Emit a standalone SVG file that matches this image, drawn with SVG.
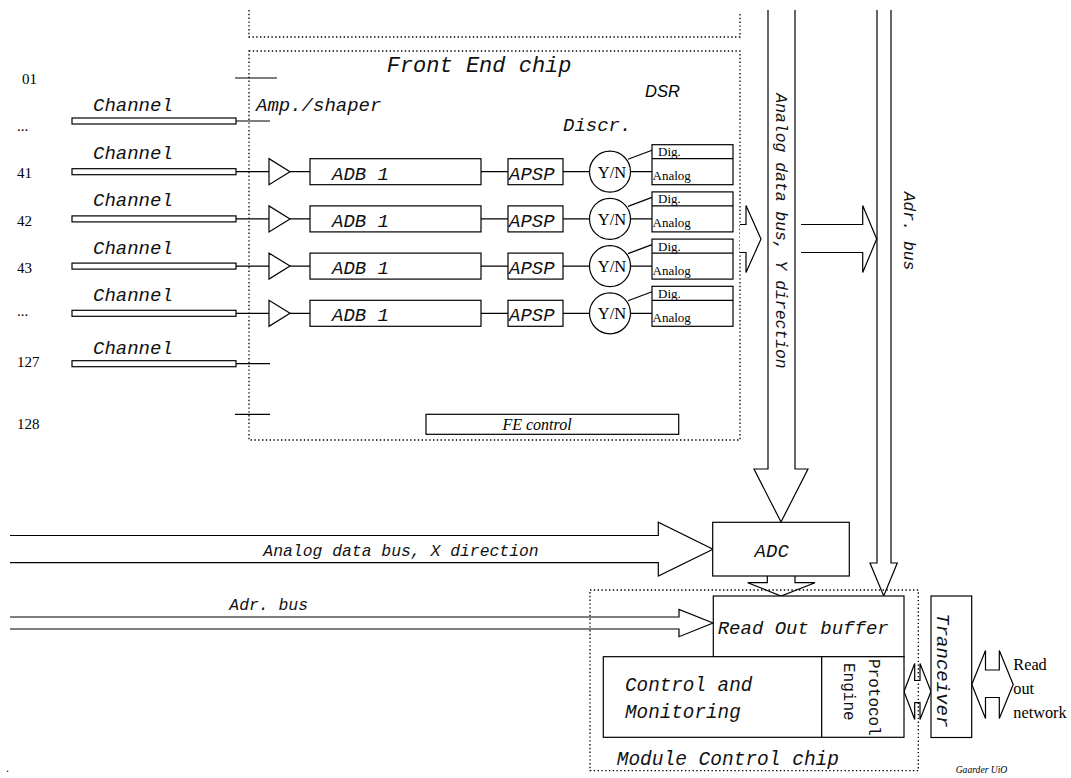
<svg xmlns="http://www.w3.org/2000/svg" width="1071" height="778" viewBox="0 0 1071 778">
<defs>
<style>
.ln{stroke:#000;stroke-width:1.2;fill:none}
.bx{stroke:#000;stroke-width:1.2;fill:#fff}
.dot{stroke:#000;stroke-width:1.3;fill:none;stroke-dasharray:1.4 2.4}
.m{font-family:"Liberation Mono","Courier New",monospace;font-style:italic;fill:#111}
.mu{font-family:"Liberation Mono","Courier New",monospace;fill:#111}
.s{font-family:"Liberation Serif","Times New Roman",serif;fill:#000}
.si{font-family:"Liberation Serif","Times New Roman",serif;font-style:italic;fill:#000}
.h{font-family:"Liberation Sans",Arial,sans-serif;font-style:italic;fill:#000}
</style>
</defs>
<rect width="1071" height="778" fill="#fff"/>

<g id="upper-chip"><path class="dot" d="M249,10 V37 H740 V12"/></g>

<g id="front-end-chip">
<rect class="dot" x="249" y="51" width="491" height="389"/>
<text class="m" x="386.7" y="72" font-size="22">Front End chip</text>
<text class="m" x="256" y="111" font-size="19">Amp./shaper</text>
<text class="h" x="645" y="97" font-size="16.5">DSR</text>
<text class="m" x="563" y="131" font-size="19">Discr.</text>
<line class="ln" x1="235" y1="78" x2="277" y2="78"/>
<line class="ln" x1="235" y1="414.3" x2="270" y2="414.3"/>
</g>

<g id="labels" class="s" font-size="15">
<text x="22" y="84">01</text>
<text x="17" y="131">...</text>
<text x="17" y="178">41</text>
<text x="17" y="226">42</text>
<text x="17" y="273">43</text>
<text x="17" y="316">...</text>
<text x="17" y="367">127</text>
<text x="17" y="429">128</text>
</g>

<g id="channel-01">
<text class="m" x="93" y="111" font-size="19">Channel</text>
<rect class="bx" x="72" y="118" width="164" height="6"/>
<line class="ln" x1="236" y1="121" x2="270" y2="121"/>
</g>

<g id="channel-127">
<text class="m" x="93" y="354" font-size="19">Channel</text>
<rect class="bx" x="72" y="360.7" width="164" height="6"/>
<line class="ln" x1="236" y1="363.7" x2="270" y2="363.7"/>
</g>

<g id="row-41" transform="translate(0,171.7)">
<text class="m" x="93" y="-12.5" font-size="19">Channel</text>
<rect class="bx" x="72" y="-3" width="164" height="6"/>
<path class="ln" d="M236,0 H269 M290,0 H310 M481,0 H508 M563,0 H589.5 M630.5,0 H652 M628,-12.5 L652,-21.5"/>
<polygon class="bx" points="269,-13 269,13 290,0"/>
<rect class="bx" x="310" y="-13" width="171" height="26"/>
<text class="m" x="332" y="8" font-size="19">ADB 1</text>
<rect class="bx" x="508" y="-13" width="55" height="26"/>
<text class="m" x="509" y="8" font-size="19">APSP</text>
<circle class="bx" cx="610" cy="0" r="20.5"/>
<text class="s" x="612" y="6" font-size="16.5" text-anchor="middle">Y/N</text>
<rect class="bx" x="652" y="-27" width="81" height="40"/>
<text class="s" x="658" y="-15.5" font-size="13">Dig.</text>
<line class="ln" x1="652" y1="-13" x2="733" y2="-13"/>
<text class="s" x="652.5" y="8.5" font-size="13">Analog</text>
</g>

<g id="row-42" transform="translate(0,218.9)">
<text class="m" x="93" y="-12.5" font-size="19">Channel</text>
<rect class="bx" x="72" y="-3" width="164" height="6"/>
<path class="ln" d="M236,0 H269 M290,0 H310 M481,0 H508 M563,0 H589.5 M630.5,0 H652 M628,-12.5 L652,-21.5"/>
<polygon class="bx" points="269,-13 269,13 290,0"/>
<rect class="bx" x="310" y="-13" width="171" height="26"/>
<text class="m" x="332" y="8" font-size="19">ADB 1</text>
<rect class="bx" x="508" y="-13" width="55" height="26"/>
<text class="m" x="509" y="8" font-size="19">APSP</text>
<circle class="bx" cx="610" cy="0" r="20.5"/>
<text class="s" x="612" y="6" font-size="16.5" text-anchor="middle">Y/N</text>
<rect class="bx" x="652" y="-27" width="81" height="40"/>
<text class="s" x="658" y="-15.5" font-size="13">Dig.</text>
<line class="ln" x1="652" y1="-13" x2="733" y2="-13"/>
<text class="s" x="652.5" y="8.5" font-size="13">Analog</text>
</g>

<g id="row-43" transform="translate(0,266.1)">
<text class="m" x="93" y="-12.5" font-size="19">Channel</text>
<rect class="bx" x="72" y="-3" width="164" height="6"/>
<path class="ln" d="M236,0 H269 M290,0 H310 M481,0 H508 M563,0 H589.5 M630.5,0 H652 M628,-12.5 L652,-21.5"/>
<polygon class="bx" points="269,-13 269,13 290,0"/>
<rect class="bx" x="310" y="-13" width="171" height="26"/>
<text class="m" x="332" y="8" font-size="19">ADB 1</text>
<rect class="bx" x="508" y="-13" width="55" height="26"/>
<text class="m" x="509" y="8" font-size="19">APSP</text>
<circle class="bx" cx="610" cy="0" r="20.5"/>
<text class="s" x="612" y="6" font-size="16.5" text-anchor="middle">Y/N</text>
<rect class="bx" x="652" y="-27" width="81" height="40"/>
<text class="s" x="658" y="-15.5" font-size="13">Dig.</text>
<line class="ln" x1="652" y1="-13" x2="733" y2="-13"/>
<text class="s" x="652.5" y="8.5" font-size="13">Analog</text>
</g>

<g id="row-n" transform="translate(0,313.3)">
<text class="m" x="93" y="-12.5" font-size="19">Channel</text>
<rect class="bx" x="72" y="-3" width="164" height="6"/>
<path class="ln" d="M236,0 H269 M290,0 H310 M481,0 H508 M563,0 H589.5 M630.5,0 H652 M628,-12.5 L652,-21.5"/>
<polygon class="bx" points="269,-13 269,13 290,0"/>
<rect class="bx" x="310" y="-13" width="171" height="26"/>
<text class="m" x="332" y="8" font-size="19">ADB 1</text>
<rect class="bx" x="508" y="-13" width="55" height="26"/>
<text class="m" x="509" y="8" font-size="19">APSP</text>
<circle class="bx" cx="610" cy="0" r="20.5"/>
<text class="s" x="612" y="6" font-size="16.5" text-anchor="middle">Y/N</text>
<rect class="bx" x="652" y="-27" width="81" height="40"/>
<text class="s" x="658" y="-15.5" font-size="13">Dig.</text>
<line class="ln" x1="652" y1="-13" x2="733" y2="-13"/>
<text class="s" x="652.5" y="8.5" font-size="13">Analog</text>
</g>

<g id="fe-control">
<rect class="bx" x="426" y="414.3" width="252.7" height="20"/>
<text class="si" x="537" y="430" font-size="16" text-anchor="middle">FE control</text>
</g>

<g id="connectors">
<path class="bx" d="M768,10 V469 H754 L781,522 L808,469 H795 V10"/>
<path class="bx" d="M877,10 V563 H870 L883.7,596 L897.3,563 H891 V10"/>
<path class="bx" d="M740,224.5 H746 V205.5 L761,239 L746,272.5 V252.5 H740"/>
<path class="bx" d="M801,224.5 H862.7 V205.5 L876.7,239 L862.7,272.5 V252.5 H801"/>
<path class="bx" d="M10,535.5 H658.3 V522.3 L713,549.3 L658.3,576 V562.7 H10"/>
<path class="bx" d="M10,617 H679 V609.5 L713,623 L679,636.7 V629 H10"/>
<path class="bx" d="M767.3,576 V582.7 H747.7 L781,596 L815,582.7 H795 V576"/>
<polygon class="bx" points="904,691.5 914.7,663.5 914.7,680.5 920,680.5 920,663.5 931,691.5 920,719.5 920,702.7 914.7,702.7 914.7,719.5"/>
<polygon class="bx" points="971.8,684.5 985.5,650.5 985.5,670 999.3,670 999.3,650.5 1013.2,684.5 999.3,718.5 999.3,697.5 985.5,697.5 985.5,718.5"/>
</g>

<g id="bus-labels">
<text class="m" transform="translate(775.5,93.3) rotate(90)" font-size="16.4">Analog data bus, Y direction</text>
<text class="m" transform="translate(903.5,191.7) rotate(90)" font-size="16.4">Adr. bus</text>
<text class="m" x="263.3" y="555.7" font-size="16.4">Analog data bus, X direction</text>
<text class="m" x="229.3" y="610" font-size="16.4">Adr. bus</text>
</g>

<g id="adc">
<rect class="bx" x="712.7" y="522.3" width="136.6" height="53.7"/>
<text class="m" x="771.7" y="557" font-size="19" text-anchor="middle">ADC</text>
</g>

<g id="module-control-chip">
<rect class="dot" x="590" y="590" width="328.3" height="180.7"/>
<text class="m" x="616.7" y="765" font-size="19.5">Module Control chip</text>
</g>

<g id="read-out-buffer">
<rect class="bx" x="713.3" y="596" width="190.7" height="60.7"/>
<text class="m" x="717.7" y="634" font-size="19">Read Out buffer</text>
</g>

<g id="control-monitoring">
<rect class="bx" x="603.3" y="656.7" width="218.4" height="80.6"/>
<text class="m" x="625" y="691" font-size="19.3">Control and</text>
<text class="m" x="625" y="717.7" font-size="19.3">Monitoring</text>
</g>

<g id="protocol-engine">
<rect class="bx" x="821.7" y="656.7" width="82.3" height="80.6"/>
<text class="mu" transform="translate(868.5,659) rotate(90)" font-size="16">Protocol</text>
<text class="mu" transform="translate(843.5,663) rotate(90)" font-size="16">Engine</text>
</g>

<g id="tranceiver">
<rect class="bx" x="931" y="596" width="40.7" height="141.5"/>
<text class="m" transform="translate(936.5,613.3) rotate(90)" font-size="19">Tranceiver</text>
</g>

<g id="readout-network" class="s" font-size="16.3">
<text x="1013.3" y="669.5">Read</text>
<text x="1013.3" y="694">out</text>
<text x="1013.3" y="718.3">network</text>
</g>

<text class="si" x="955.7" y="772.5" font-size="9.6">Gaarder UiO</text>
<text class="s" x="6" y="772" font-size="12">.</text>
</svg>
